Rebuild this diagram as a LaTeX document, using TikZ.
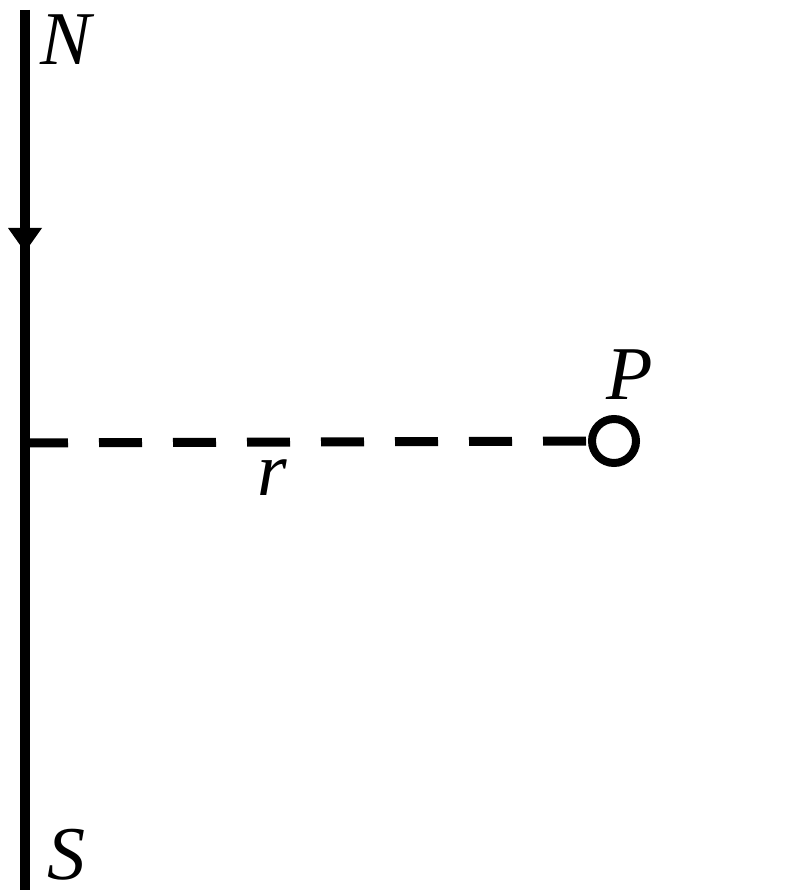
\documentclass[tikz,border=0pt]{standalone}
\usepackage{fontspec}
\setmainfont{Liberation Serif}
\begin{document}
\begin{tikzpicture}[x=1pt,y=-1pt,
  lbl/.style={inner sep=0pt,font=\fontsize{76}{76}\selectfont\itshape},
  wire/.style={line width=10pt},
  rline/.style={line width=9pt,dash pattern=on 43pt off 31pt},
  pt/.style={circle,draw,line width=8pt,minimum size=44pt,inner sep=0pt,fill=white}]
\useasboundingbox (0,0) rectangle (791,890);
\coordinate (top) at (25,10);
\coordinate (bot) at (25,895);
\coordinate (foot) at (25,443);
\node[pt] (P) at (614,441) {};
\draw[wire] (top) -- (bot);
\fill (8,228) -- (42,228) -- (25,252) -- cycle;
\draw[rline] (foot) -- (P.west);
\node[lbl] (N) at (66,40) {N};
\node[lbl] (S) at (66,855) {S};
\node[lbl] (Pl) at (630,375) {P};
\node[lbl] (r) at (272,478) {r};
\end{tikzpicture}
\end{document}
